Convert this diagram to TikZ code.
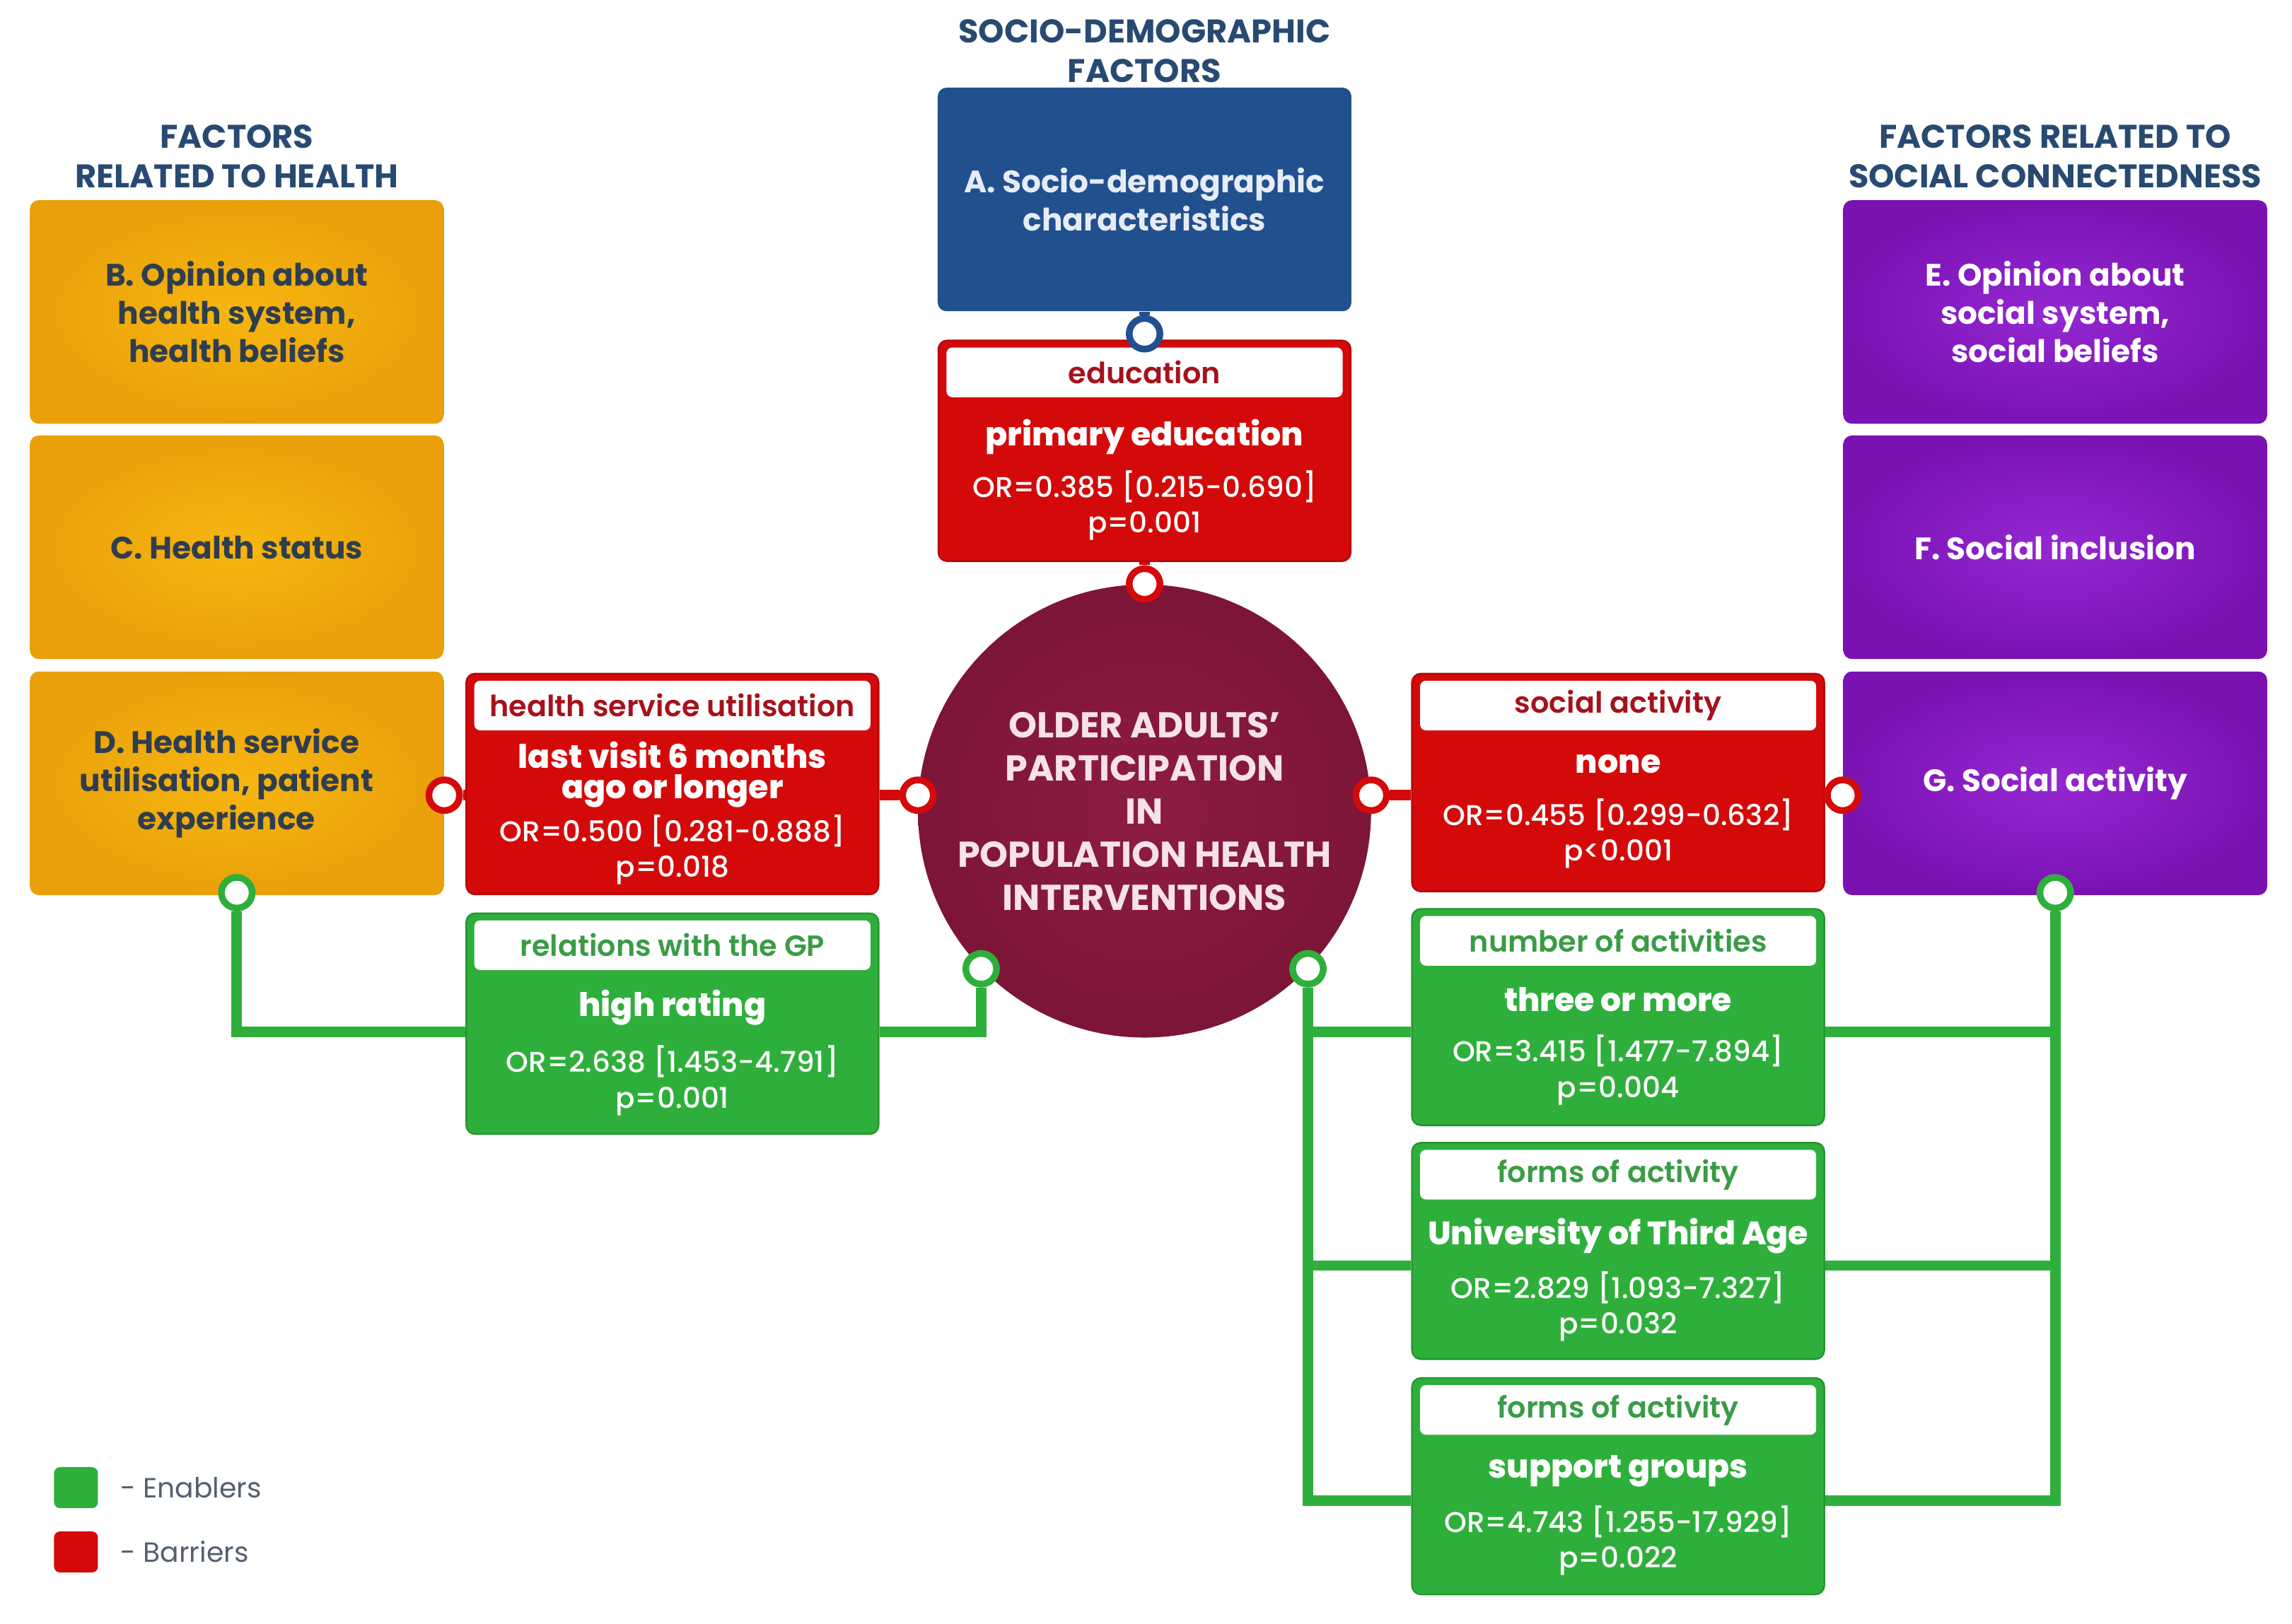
\documentclass[tikz,border=0pt]{standalone}
\usepackage{fontspec}
\setmainfont{Poppins}
\newfontfamily\popmed{Poppins Medium}
\newfontfamily\popsemi{Poppins SemiBold}
\usepackage{tikz}
\usetikzlibrary{positioning, calc, shapes}

\definecolor{hyellow}{HTML}{F7B60F}
\definecolor{hyellowd}{HTML}{E9A00A}
\definecolor{sblue}{HTML}{22508F}
\definecolor{sbluetext}{HTML}{E6ECF5}
\definecolor{cpurple}{HTML}{9428D2}
\definecolor{cpurpled}{HTML}{7A12B2}
\definecolor{bred}{HTML}{D40A0A}
\definecolor{egreen}{HTML}{2EAF3B}
\definecolor{coremaroon}{HTML}{8E1C42}
\definecolor{coremaroond}{HTML}{7C1537}
\definecolor{coretext}{HTML}{F6E2E8}
\definecolor{titleblue}{HTML}{284A72}
\definecolor{slate}{HTML}{2F3E4E}
\definecolor{headred}{HTML}{A5121C}
\definecolor{headgreen}{HTML}{3A9C45}
\definecolor{legtext}{HTML}{55606E}

\newcommand{\boldsz}{\bfseries\fontsize{11.1}{11.5}\selectfont}

\tikzset{
  title/.style={align=center, text=titleblue, font=\bfseries\fontsize{11.2}{13.5}\selectfont},
  factor/.style={rounded corners=3pt, minimum width=141.5pt, minimum height=76.5pt,
    align=center, font=\bfseries\fontsize{10.6}{13}\selectfont},
  healthbox/.style={factor, inner color=hyellow, outer color=hyellowd, text=slate},
  socialbox/.style={factor, minimum width=145pt, inner color=cpurple, outer color=cpurpled, text=white},
  resbox/.style={rounded corners=3pt, minimum width=141pt, minimum height=#1, inner sep=0pt},
  barrier/.style={resbox=75.5pt, fill=bred, draw=bred!85!black, line width=0.6pt},
  enabler/.style={resbox=74pt, fill=egreen, draw=egreen!85!black, line width=0.6pt},
  header/.style={rounded corners=2pt, fill=white, minimum width=135.5pt, minimum height=17pt,
    inner sep=0pt, anchor=north, text=#1, font=\popsemi\fontsize{10}{11}\selectfont},
  resbody/.style={text=white, align=center, inner sep=0pt, font=\popmed\fontsize{9.8}{12.2}\selectfont},
  core/.style={circle, minimum size=155pt, inner sep=0pt, inner color=coremaroon, outer color=coremaroond,
    text=coretext, align=center, font=\bfseries\fontsize{12.3}{14.75}\selectfont},
  ring/.style={circle, draw=#1, fill=white, line width=2.3pt, inner sep=0pt, minimum size=10.5pt},
  link/.style={draw=#1, line width=3.6pt},
  legsq/.style={rounded corners=2pt, minimum width=15pt, minimum height=14pt, inner sep=0pt},
  legtxt/.style={text=legtext, font=\fontsize{9.5}{11}\selectfont, anchor=west}
}

\begin{document}
\begin{tikzpicture}[x=0.5pt, y=-0.5pt]
  \fill[white] (0,0) rectangle (1568,1111);
  \useasboundingbox (0,0) rectangle (1568,1111);

  % TOP: socio-demographic factors
  \node[title] (tA) at (783,35) {SOCIO-DEMOGRAPHIC\\FACTORS};
  \node[factor, fill=sblue, text=sbluetext] (fA) at (783,136.5) {A. Socio-demographic\\characteristics};
  \node[barrier] (edu) at (783,308.5) {};
  \node[header=headred] (eduH) at ([yshift=-2.5pt]edu.north) {education};
  \node[resbody] (eduB) at ($(eduH.south)!0.5!(edu.south)$)
    {{\boldsz primary education}\\[5.5pt]OR=0.385 [0.215-0.690]\\p=0.001};

  % LEFT: factors related to health
  \node[title] (tH) at (162,107) {FACTORS\\RELATED TO HEALTH};
  \node[healthbox] (fB) at (162,213.5) {B. Opinion about\\health system,\\health beliefs};
  \node[healthbox] (fC) at (162,374.5) {C. Health status};
  \node[healthbox] (fD) at (162,536) {\hspace*{-7pt}D. Health service\\\hspace*{-7pt}utilisation, patient\\\hspace*{-7pt}experience};

  \node[barrier] (hsu) at (460,536.5) {};
  \node[header=headred] (hsuH) at ([yshift=-2.5pt]hsu.north) {health service utilisation};
  \node[resbody] (hsuB) at ($(hsuH.south)!0.5!(hsu.south)$)
    {{\boldsz last visit 6 months}\\[-1.8pt]{\boldsz ago or longer}\\[1.5pt]OR=0.500 [0.281-0.888]\\p=0.018};

  \node[resbox=75.5pt, fill=egreen, draw=egreen!85!black, line width=0.6pt] (gp) at (460,700.5) {};
  \node[header=headgreen] (gpH) at ([yshift=-2.5pt]gp.north) {relations with the GP};
  \node[resbody] (gpB) at ($(gpH.south)!0.5!(gp.south)$)
    {{\boldsz high rating}\\[6pt]OR=2.638 [1.453-4.791]\\p=0.001};

  % CENTRE: outcome
  \node[core] (core) at (783,555) {OLDER ADULTS’\\PARTICIPATION\\IN\\POPULATION HEALTH\\INTERVENTIONS};

  % RIGHT: factors related to social connectedness
  \node[title] (tS) at (1406,107) {FACTORS RELATED TO\\SOCIAL CONNECTEDNESS};
  \node[socialbox] (fE) at (1406,213.5) {E. Opinion about\\social system,\\social beliefs};
  \node[socialbox] (fF) at (1406,374.5) {F. Social inclusion};
  \node[socialbox] (fG) at (1406,536) {G. Social activity};

  \node[barrier, minimum height=74.5pt] (soc) at (1107,535.5) {};
  \node[header=headred] (socH) at ([yshift=-2.5pt]soc.north) {social activity};
  \node[resbody] (socB) at ($(socH.south)!0.5!(soc.south)$)
    {{\boldsz none}\\[5.5pt]OR=0.455 [0.299-0.632]\\p<0.001};

  \node[enabler] (num) at (1107,696) {};
  \node[header=headgreen] (numH) at ([yshift=-2.5pt]num.north) {number of activities};
  \node[resbody] (numB) at ($(numH.south)!0.5!(num.south)$)
    {{\boldsz three or more}\\[5pt]OR=3.415 [1.477-7.894]\\p=0.004};

  \node[enabler] (uta) at (1107,856) {};
  \node[header=headgreen] (utaH) at ([yshift=-2.5pt]uta.north) {forms of activity};
  \node[resbody] (utaB) at ($(utaH.south)!0.5!(uta.south)$)
    {{\boldsz University of Third Age}\\[5pt]OR=2.829 [1.093-7.327]\\p=0.032};

  \node[enabler] (grp) at (1107,1017) {};
  \node[header=headgreen] (grpH) at ([yshift=-2.5pt]grp.north) {forms of activity};
  \node[resbody] (grpB) at ($(grpH.south)!0.5!(grp.south)$)
    {{\boldsz support groups}\\[5.5pt]OR=4.743 [1.255-17.929]\\p=0.022};

  % rings
  \node[ring=sblue] (rA) at ([yshift=2pt]edu.north) {};
  \node[ring=bred] (rE) at (core.north) {};
  \node[ring=bred] (rHR) at (core.176) {};
  \node[ring=bred] (rSL) at (core.4) {};
  \node[ring=bred] (rHL) at (fD.east |- rHR) {};
  \node[ring=bred] (rSR) at (fG.west |- rSL) {};
  \node[ring=egreen] (rGP) at (core.224) {};
  \node[ring=egreen] (rC) at (core.316) {};
  \node[ring=egreen] (rD) at ([yshift=1pt]fD.south) {};
  \node[ring=egreen] (rG) at ([yshift=1pt]fG.south) {};

  \coordinate (gp-l) at ([yshift=-2.75pt]gp.west);
  \coordinate (gp-r) at ([yshift=-2.75pt]gp.east);
  \foreach \b in {num, uta, grp} {
    \coordinate (\b-l) at ([yshift=-5pt]\b.west);
    \coordinate (\b-r) at ([yshift=-5pt]\b.east);
  }

  % barrier links
  \draw[link=sblue] (fA.south) -- (rA);
  \draw[link=bred] (edu.south) -- (rE);
  \draw[link=bred] (rHL) -- (rHL -| hsu.west);
  \draw[link=bred] (rHR) -- (rHR -| hsu.east);
  \draw[link=bred] (rSL) -- (rSL -| soc.west);
  \draw[link=bred] (rSR) -- (rSR -| soc.east);

  % enabler links
  \draw[link=egreen] (rD) |- (gp-l);
  \draw[link=egreen] (rGP) |- (gp-r);
  \draw[link=egreen] (rC) |- (grp-l);
  \draw[link=egreen] (rC |- num-l) -- (num-l);
  \draw[link=egreen] (rC |- uta-l) -- (uta-l);
  \draw[link=egreen] (rG) |- (grp-r);
  \draw[link=egreen] (rG |- num-r) -- (num-r);
  \draw[link=egreen] (rG |- uta-r) -- (uta-r);

  % legend
  \node[legsq, fill=egreen] (legE) at (52,1018) {};
  \node[legtxt] (legEt) at ([xshift=4pt]legE.east) {- Enablers};
  \node[legsq, fill=bred] (legB) at (52,1062) {};
  \node[legtxt] (legBt) at ([xshift=4pt]legB.east) {- Barriers};
\end{tikzpicture}
\end{document}
